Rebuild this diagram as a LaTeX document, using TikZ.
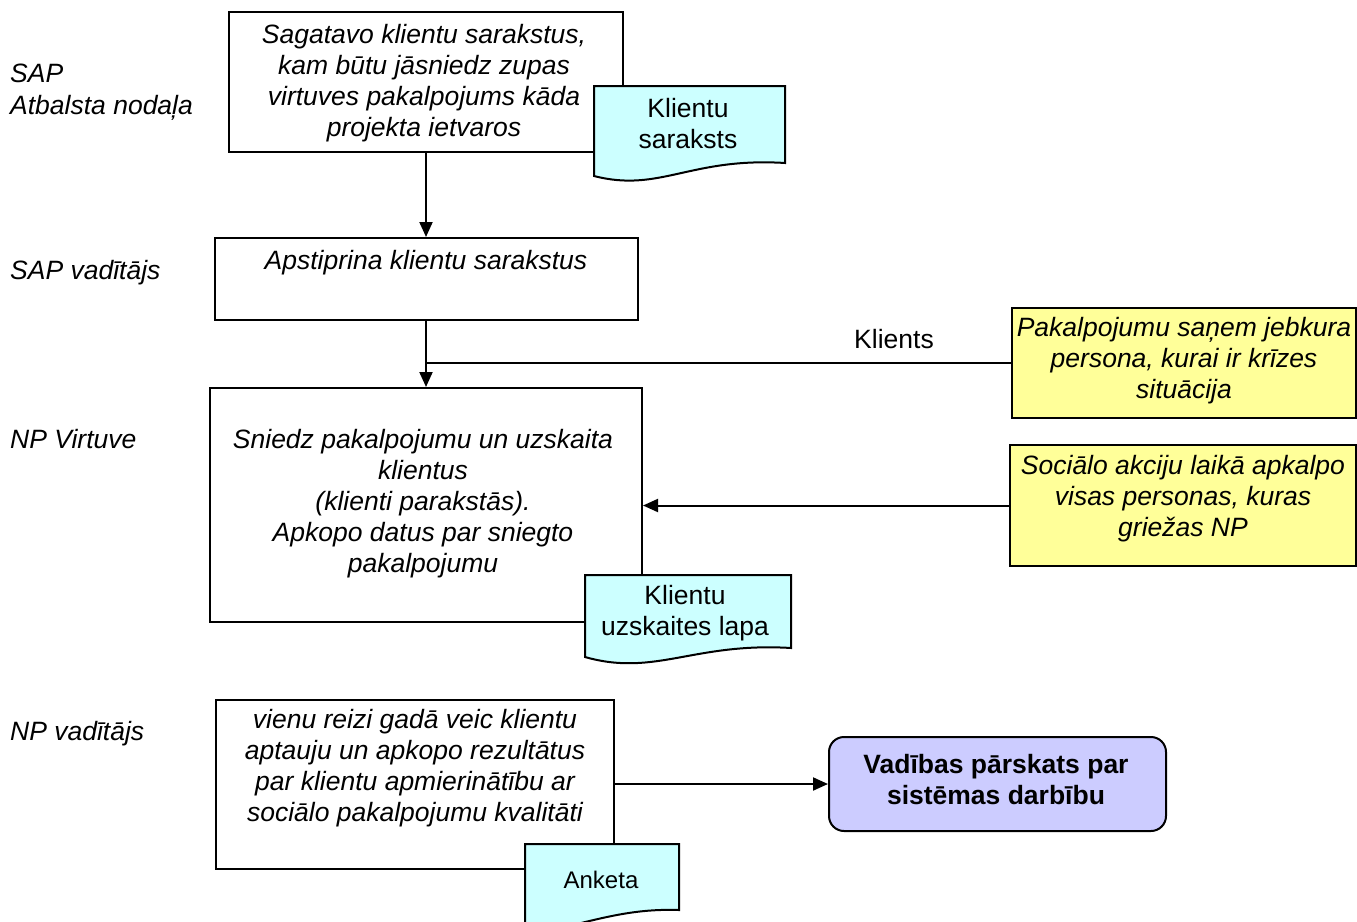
\documentclass[tikz,border=0pt]{standalone}
\usepackage{fontspec}
\setmainfont{Liberation Sans}
\usetikzlibrary{arrows.meta}
\begin{document}
\begin{tikzpicture}[x=1pt,y=-1pt,
  every node/.style={inner sep=0pt,font=\fontsize{26.5}{31}\selectfont},
  box/.style={draw,line width=2pt,rectangle},
  note/.style={draw,line width=2pt,fill=noteyellow,rectangle},
  docshape/.style={draw,line width=2pt,fill=doccyan},
  boxtext/.style={align=center,font=\fontsize{26.5}{31}\selectfont\itshape},
  lane/.style={anchor=west,align=left,font=\fontsize{26.5}{32}\selectfont\itshape},
  link/.style={line width=2pt},
  arr/.style={line width=2pt,-{Triangle[length=15pt,width=13pt]}}]
\definecolor{noteyellow}{HTML}{FFFF99}
\definecolor{doccyan}{HTML}{CCFFFF}
\definecolor{reportblue}{HTML}{CCCCFF}
\useasboundingbox (0,0) rectangle (1357,921);
\clip (0,0) rectangle (1357,921);

% swimlane labels
\node[lane] (l1) at (10,92) {SAP\\Atbalsta nodaļa};
\node[lane] (l2) at (10,273) {SAP vadītājs};
\node[lane] (l3) at (10,439) {NP Virtuve};
\node[lane] (l4) at (10,734) {NP vadītājs};

% process boxes
\node[box,minimum width=394pt,minimum height=140pt] (b1) at (426,82) {};
\node[boxtext] (t1) at (424,83) {Sagatavo klientu sarakstus,\\kam būtu jāsniedz zupas\\virtuves pakalpojums kāda\\projekta ietvaros};

\node[box,minimum width=423pt,minimum height=82pt] (b2) at (426,279) {};
\node[boxtext] (t2) at (426,263) {Apstiprina klientu sarakstus};

\node[box,minimum width=432pt,minimum height=234pt] (b3) at (426,505) {};
\node[boxtext] (t3) at (423,504) {Sniedz pakalpojumu un uzskaita\\klientus\\(klienti parakstās).\\Apkopo datus par sniegto\\pakalpojumu};

\node[box,minimum width=398pt,minimum height=169pt] (b4) at (415,784.5) {};
\node[boxtext] (t4) at (415,768) {vienu reizi gadā veic klientu\\aptauju un apkopo rezultātus\\par klientu apmierinātību ar\\sociālo pakalpojumu kvalitāti};

% notes
\node[note,minimum width=344pt,minimum height=110pt] (y1) at (1184,363) {};
\node[boxtext] (ty1) at (1184,361) {Pakalpojumu saņem jebkura\\persona, kurai ir krīzes\\situācija};

\node[note,minimum width=346pt,minimum height=121pt] (y2) at (1183,505.5) {};
\node[boxtext] (ty2) at (1183,499) {Sociālo akciju laikā apkalpo\\visas personas, kuras\\griežas NP};

% report
\node[draw,line width=2pt,fill=reportblue,rounded corners=15pt,minimum width=337pt,minimum height=94pt] (r) at (997.5,784) {};
\node[align=center,font=\fontsize{26.5}{31}\selectfont\bfseries] (tr) at (996,780) {Vadības pārskats par\\sistēmas darbību};

% documents
\draw[docshape] (594,86) -- (785,86) -- (785,163) .. controls (690,157) and (660,193) .. (594,176) -- cycle;
\node[align=center] (d1) at (688,124) {Klientu\\saraksts};

\draw[docshape] (585,575) -- (791,575) -- (791,648) .. controls (694,642) and (655,677) .. (585,657) -- cycle;
\node[align=center] (d2) at (685,613) {Klientu\\uzskaites lapa};

\draw[docshape] (525,844) -- (679,844) -- (679,910) .. controls (620,908) and (585,925) .. (525,935) -- cycle;
\node[font=\fontsize{24}{29}\selectfont] (d3) at (601,880) {Anketa};

% connectors
\draw[arr] (b1.south) -- (b2.north);
\draw[arr] (b2.south) -- (b3.north);
\draw[link] (y1.west) -- (y1.west -| b2.south);
\node (kl) at (894,339) {Klients};
\draw[arr] (y2.west) -- (y2.west -| b3.east);
\draw[arr] (b4.east |- r.west) -- (r.west);
\end{tikzpicture}
\end{document}
